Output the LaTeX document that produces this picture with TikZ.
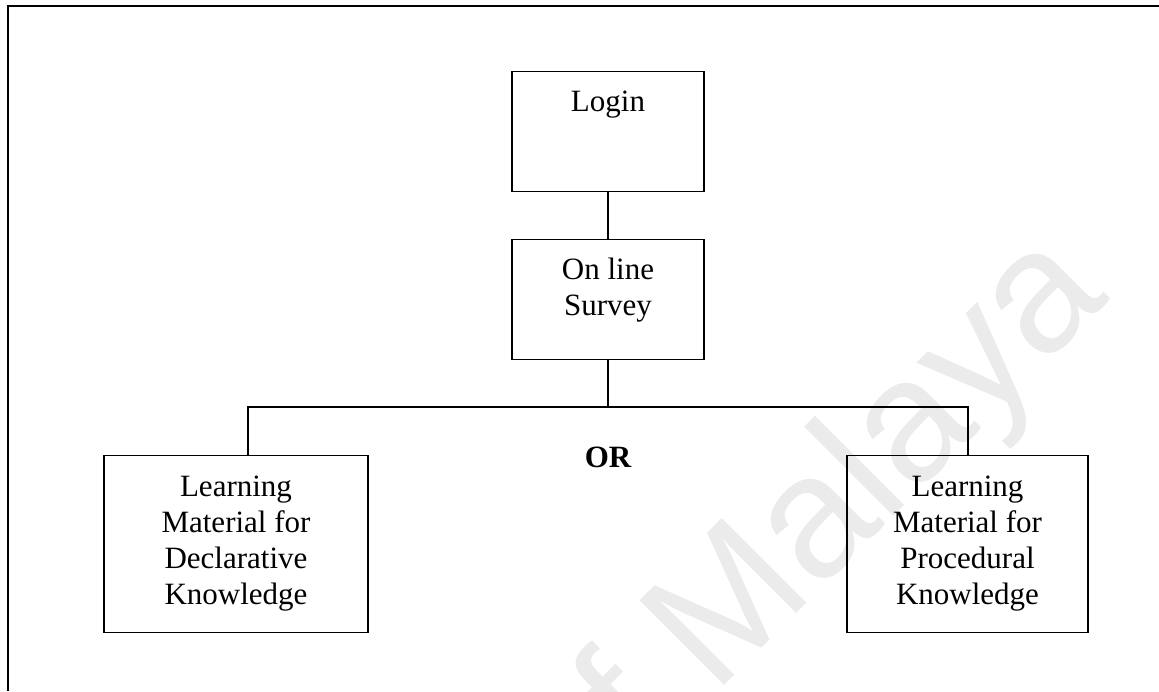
\documentclass[tikz,border=0pt]{standalone}
\usepackage{fontspec}
\setmainfont{Liberation Serif}
\newfontfamily\wmfont{Liberation Sans}
% stacked, centred lines whose baseline is the first line
\newcommand\boxlines[1]{\begin{tabular}[t]{@{}c@{}}#1\end{tabular}}
\begin{document}
\begin{tikzpicture}[x=1pt,y=-1pt,
  box/.style={draw, line width=1.3pt, inner sep=0pt, anchor=north,
    font=\fontsize{31}{36}\selectfont},
  smallbox/.style={box, minimum width=192pt, text height=40pt, text depth=80pt},
  bigbox/.style={box, text height=41pt, text depth=136pt},
  link/.style={line width=1.3pt},
  bus/.style={line width=1.6pt},
  watermark/.style={text=black!8, inner sep=0pt,
    font=\wmfont\fontsize{174}{174}\selectfont}]
\useasboundingbox (0,0) rectangle (1159,691);

% faint watermark behind the chart
\begin{scope}
  \clip (0,0) rectangle (1159,691);
  \node[watermark, anchor=base west, rotate=45] (wm) at (578,832) {of Malaya};
\end{scope}

% page frame: top and left edges
\coordinate (ftl) at (8,6);
\coordinate (ftr) at (1159,6);
\coordinate (fbl) at (8,691);
\draw[line width=2.3pt] ([xshift=-1pt]ftl) -- (ftr);
\draw[line width=1.8pt] (ftl) -- (fbl);

% boxes
\node[smallbox] (login) at (608,71) {\boxlines{Login}};
\node[smallbox] (survey) at (608,239) {\boxlines{On line\\Survey}};
\node[bigbox, minimum width=264pt] (decl) at (236,455)
  {\boxlines{Learning\\Material for\\Declarative\\Knowledge}};
\node[bigbox, minimum width=241pt] (proc) at (967.5,455)
  {\boxlines{Learning\\Material for\\Procedural\\Knowledge}};

\node[font=\fontsize{31}{36}\selectfont\bfseries, anchor=base, inner sep=0pt]
  (or) at (608,467) {OR};

% connectors
\coordinate (jl) at (248,407);
\coordinate (jr) at (968,407);
\draw[link] (login.south) -- (survey.north);
\draw[link] (survey.south) -- (survey.south |- jl);
\draw[bus] ([xshift=-0.65pt]jl) -- ([xshift=0.65pt]jr);
\draw[link] (jl) -- (jl |- decl.north);
\draw[link] (jr) -- (jr |- proc.north);
\end{tikzpicture}
\end{document}
